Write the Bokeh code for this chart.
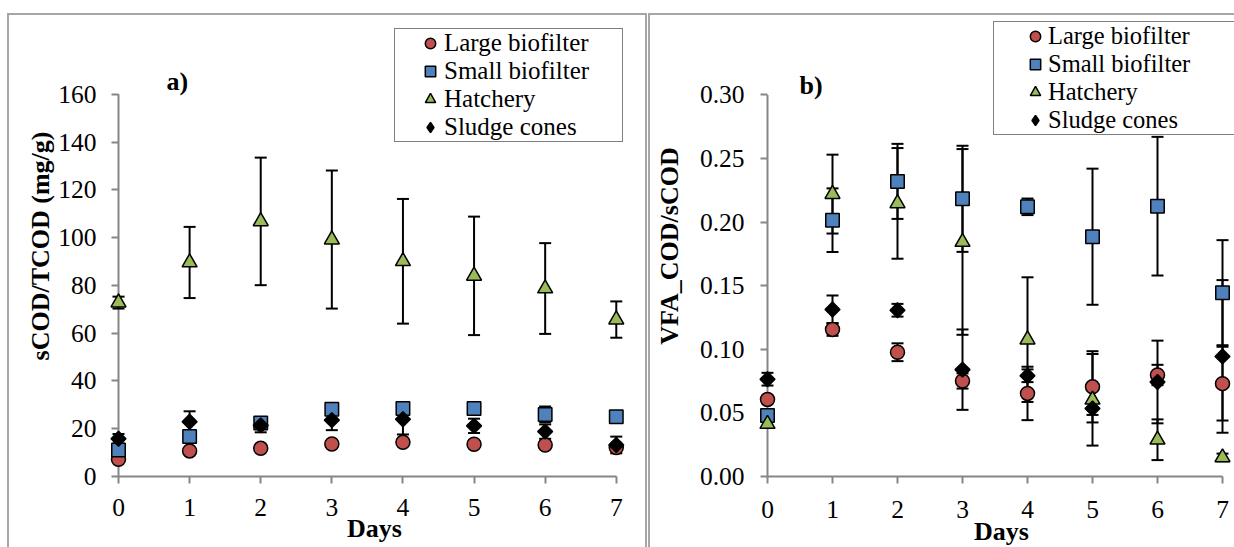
from math import pi
from bokeh.plotting import figure
from bokeh.layouts import row
from bokeh.models import (Range1d, FixedTicker, Legend, LegendItem, Label,
                          ColumnDataSource, NumeralTickFormatter)
from bokeh.embed import file_html
from bokeh.resources import INLINE

# ---------------- data ----------------
days = [0, 1, 2, 3, 4, 5, 6, 7]
series_names = ["Large biofilter", "Small biofilter", "Hatchery", "Sludge cones"]

# panel a) sCOD/TCOD (mg/g)
a_large = [7.2, 10.7, 11.8, 13.6, 14.3, 13.5, 13.2, 12.1]
a_large_err = [1.0, 1.0, 1.0, 1.0, 1.0, 1.0, 1.0, 1.0]
a_small = [11.1, 16.7, 22.4, 28.2, 28.5, 28.5, 26.0, 25.0]
a_small_err = [1.0, 1.0, 1.0, 1.5, 1.5, 1.5, 3.3, 1.0]
a_hatch = [72.8, 89.6, 106.8, 99.2, 90.1, 84.0, 78.7, 65.7]
a_hatch_err = [2.5, 14.9, 26.7, 28.9, 26.1, 24.8, 19.0, 7.6]
a_sludge = [15.8, 22.9, 21.4, 23.6, 24.0, 21.2, 18.8, 13.2]
a_sludge_err = [2.0, 4.4, 2.9, 4.2, 6.4, 3.0, 3.0, 3.5]
a_yticks = [0, 20, 40, 60, 80, 100, 120, 140, 160]

# panel b) VFA_COD/sCOD
b_large = [0.0606, 0.1156, 0.0977, 0.0751, 0.0653, 0.0705, 0.0798, 0.0730]
b_large_err = [0.003, 0.005, 0.007, 0.006, 0.021, 0.028, 0.008, 0.029]
b_small = [0.0480, 0.2015, 0.2320, 0.2183, 0.2120, 0.1885, 0.2125, 0.1445]
b_small_err = [0.003, 0.025, 0.0295, 0.0417, 0.0065, 0.0535, 0.0545, 0.0413]
b_hatch = [0.0413, 0.2220, 0.2147, 0.1844, 0.1076, 0.0603, 0.0289, 0.0150]
b_hatch_err = [0.002, 0.031, 0.0435, 0.073, 0.049, 0.036, 0.016, 0.003]
b_sludge = [0.0765, 0.1313, 0.1307, 0.0840, 0.0792, 0.0534, 0.0743, 0.0944]
b_sludge_err = [0.005, 0.011, 0.005, 0.0316, 0.005, 0.005, 0.0325, 0.060]
b_yticks = [0.0, 0.05, 0.10, 0.15, 0.20, 0.25, 0.30]

# ---------------- styles ----------------
FILL = ["#c0504d", "#4f81bd", "#9bbb59", "#000000"]
MARK = ["circle", "square", "triangle", "square"]
LEG_MARK = ["circle", "square", "triangle", "diamond"]
SIZE = [14, 13.5, 15, 10.5]
ANGLE = [0, 0, 0, pi / 4]
AXIS_C = "#868686"
FRAME_C = "#a6a6a6"
SERIF = "Liberation Serif"
NAN = float("nan")


def make_panel(vals, errs, y_end, y_ticks, y_fmt, ytitle, letter,
               W, H, mbl, mbr, mbb, cfg, css, margin):
    p = figure(width=W, height=H, x_range=Range1d(days[0], 7.2),
               y_range=Range1d(0, y_end), output_backend="svg",
               toolbar_location=None, min_border_left=mbl,
               min_border_right=mbr, min_border_top=0,
               min_border_bottom=mbb)
    p.outline_line_color = None
    p.grid.visible = False
    p.background_fill_color = "white"
    p.border_fill_color = "white"
    p.styles = css
    p.margin = margin

    for ax in (p.xaxis[0], p.yaxis[0]):
        ax.axis_line_color = AXIS_C
        ax.axis_line_width = 2
        ax.major_tick_line_color = AXIS_C
        ax.major_tick_line_width = 2
        ax.major_tick_out = 7
        ax.major_tick_in = 0
        ax.minor_tick_line_color = None
        ax.major_label_text_font = SERIF
        ax.major_label_text_font_size = "25.5px"
        ax.major_label_text_color = "black"
        ax.axis_label_text_font = SERIF
        ax.axis_label_text_font_size = "26px"
        ax.axis_label_text_font_style = "bold"
        ax.axis_label_text_color = "black"
    p.xaxis.ticker = FixedTicker(ticks=days)
    p.xaxis.bounds = (days[0], days[-1])
    p.xaxis.major_label_standoff = cfg["xstand"]
    p.xaxis.axis_label = "Days"
    p.xaxis.axis_label_standoff = cfg["xlab_stand"]
    p.yaxis.ticker = FixedTicker(ticks=y_ticks)
    p.yaxis.formatter = NumeralTickFormatter(format=y_fmt)
    p.yaxis.bounds = cfg["ybounds"]          # centres the axis title
    p.yaxis.axis_line_color = None           # line drawn below the markers
    p.yaxis.major_label_standoff = cfg["ystand"]
    p.yaxis.axis_label = ytitle
    p.yaxis.axis_label_standoff = cfg["ylab_stand"]

    # vertical axis line, under the markers
    r = p.segment(x0=days[0], y0=y_ticks[0], x1=days[0], y1=y_ticks[-1],
                  line_color=AXIS_C, line_width=2)
    r.level = "overlay"

    # error bars
    for v, e in zip(vals, errs):
        lo = [a - b for a, b in zip(v, e)]
        hi = [a + b for a, b in zip(v, e)]
        src = ColumnDataSource(dict(x=days, lo=lo, hi=hi))
        r = p.segment(x0="x", y0="lo", x1="x", y1="hi", source=src,
                      line_color="black", line_width=2)
        r.level = "overlay"
        for col in ("lo", "hi"):
            r = p.scatter(x="x", y=col, source=src, marker="dash", size=12,
                          line_color="black", line_width=2)
            r.level = "overlay"

    for i, v in enumerate(vals):
        r = p.scatter(x=days, y=v, marker=MARK[i], size=SIZE[i],
                      angle=ANGLE[i], fill_color=FILL[i],
                      line_color="black", line_width=1.5)
        r.level = "overlay"

    # legend key glyphs (NaN point: nothing drawn in the plot itself)
    proxies = [p.scatter(x=[NAN], y=[NAN], marker=LEG_MARK[i],
                         fill_color=FILL[i], line_color="black",
                         line_width=1.5)
               for i in range(len(series_names))]
    items = [LegendItem(label=n, renderers=[r])
             for n, r in zip(series_names, proxies)]
    legend = Legend(items=items, location=cfg["loc"], orientation="vertical",
                    glyph_width=cfg["gw"], glyph_height=26,
                    spacing=0, padding=cfg["pad"], label_standoff=0,
                    label_text_font=SERIF,
                    label_text_font_size=cfg["lfs"],
                    label_text_color="black",
                    border_line_color="black", border_line_width=1.5,
                    background_fill_color="white", background_fill_alpha=1.0,
                    margin=0)
    legend.level = "overlay"
    p.add_layout(legend)

    p.add_layout(Label(x=cfg["letter"][0], y=cfg["letter"][1],
                       x_units="screen", y_units="screen", text=letter,
                       text_font=SERIF, text_font_size="26px",
                       text_font_style="bold", text_color="black",
                       text_baseline="alphabetic"))
    return p


pa = make_panel([a_large, a_small, a_hatch, a_sludge],
                [a_large_err, a_small_err, a_hatch_err, a_sludge_err],
                193.0, a_yticks, "0", "sCOD/TCOD (mg/g)", "a)",
                W=636, H=532, mbl=109, mbr=19, mbb=70,
                cfg={"letter": (48, 395), "loc": (276, 334), "gw": 28,
                     "lfs": "25px", "ybounds": (0, 175),
                     "xstand": 15, "xlab_stand": -5, "ystand": 15,
                     "ylab_stand": 0,
                     "pad": dict(left=21, right=33, top=0, bottom=0)},
                css={"box-sizing": "content-box",
                     "border-top": "2px solid " + FRAME_C,
                     "border-left": "2px solid " + FRAME_C,
                     "border-right": "2px solid " + FRAME_C},
                margin=(13, 0, 0, 7))

pb = make_panel([b_large, b_small, b_hatch, b_sludge],
                [b_large_err, b_small_err, b_hatch_err, b_sludge_err],
                0.3624, b_yticks, "0.00", "VFA_COD/sCOD", "b)",
                W=584, H=532, mbl=117, mbr=1, mbb=73,
                cfg={"letter": (32, 391), "loc": (226, 341), "gw": 26,
                     "lfs": "24.5px", "ybounds": (0.0, 0.30),
                     "xstand": 17, "xlab_stand": -4, "ystand": 16,
                     "ylab_stand": 13,
                     "pad": dict(left=28, right=120, top=0, bottom=0)},
                css={"box-sizing": "content-box",
                     "border-top": "2px solid " + FRAME_C,
                     "border-left": "2px solid " + FRAME_C},
                margin=(13, 0, 0, 1))

layout = row(pa, pb)
open("out.html", "w").write(file_html(layout, INLINE))
